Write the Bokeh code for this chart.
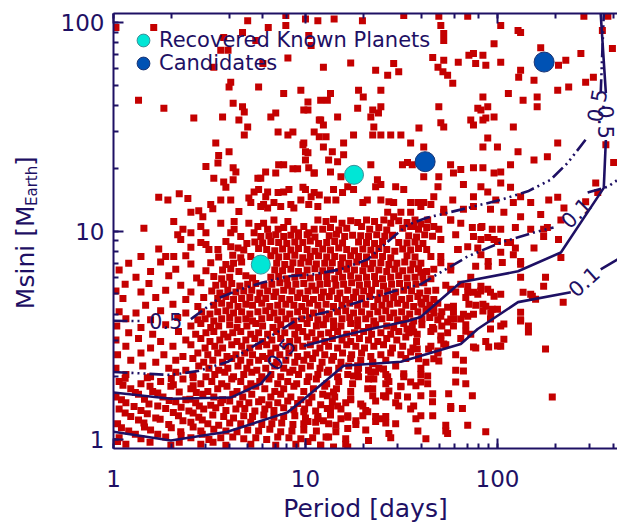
import math
from bokeh.plotting import figure
from bokeh.layouts import row
from bokeh.models import Range1d, LogAxis, Legend, LegendItem, LogTickFormatter
from bokeh.embed import file_html
from bokeh.resources import INLINE
from bokeh.core.properties import value

NAN = float("nan")
NAVY = "#1e1064"
RED = "#c40000"
CYAN = "#00e6d6"
BLUE = "#0052b4"
FONT = "DejaVu Sans"

# ---------------- data (Period [days], Msini [M_Earth]) ----------------
top_sparse = [(1.03,94.6),(1.62,94.6),(5.0,102),(6.4,94.6),(7.9,96.8),(7.9,108),(10.0,104),(4.7,89.6),(3.75,84.8),(10.4,86.7),(11.6,102),(3.62,73.5),(3.95,73.5),(5.51,82),(3.33,61),(6.0,63.5),(8.1,67.5),(10.7,77.6),(4.08,51.7),(4.0,49),(5.7,49),(9.46,47.3),(7.7,45.7),(1.35,42.4),(1.83,38.8),(2.62,34.8),(4.2,41),(4.7,39.4),(4.8,37.2),(3.7,35.2),(4.5,34.1),(5.0,31.5),(4.8,28.9),(6.6,35.2),(7.0,36.8),(10.3,41.5),(10.3,38),(7.2,29.8),(8.1,28.9),(8.6,29.8),(11.1,29.8),(11.8,34.1),(3.41,26.4),(4.0,24),(3.53,23),(3.5,21.2),(3.03,20.4),(4.2,20.1),(4.34,19.2),(9.7,25.9),(10.0,24),(10.0,21.9),(10.4,20.1),(7.25,20.8),(7.7,20.8),(8.6,19.9),(9.1,19.9),(6.2,19.2),(5.65,17.9),(5.85,17.9),(7.0,19),(3.33,17.9),(3.75,17.2),(4.2,17.6),(11.1,19),(3.85,16.2),(1.72,14.5),(1.92,14.1),(2.2,15.1),(2.44,14.3),(2.53,12.3),(2.78,12.5),(2.92,11.7),(3.21,13.4),(3.29,12.8),(3.62,14.1),(4.08,14.1),(4.5,12.4),(5.07,14.4),(5.19,13.7),(5.4,15.4),(5.7,15.8),(6.35,15.4),(6.21,14.6),(7.2,15.3),(7.7,15.4),(8.2,15.8),(9.7,16.2),(10.7,14.6),(11.8,14.9),(5.85,13.1),(6.05,13.4),(6.35,12.9),(6.85,13.7),(7.43,13.1),(8.39,13.4),(8.7,12.9),(9.46,14.1),(10.4,13.4),(11.6,13.1),(1.44,10.3),(2.06,11.1),(2.3,10.2),(2.53,9.8),(2.85,10.5),(3.03,9.8),(3.62,10.9),(4.25,11.1),(5.07,10.9),(4.08,9.8),(4.25,10.2),(4.6,9.4),(5.65,10.5),(6.05,10.9),(6.35,10.2),(6.85,11.3),(7.2,10.2),(7.7,10.4),(8.1,11.1),(8.7,10.2),(9.2,9.8),(9.8,10.5),(10.4,9.8),(11.1,10.2),(11.6,11.3),(5.4,9.8),(5.85,9.4),(1.87,7.55),(2.06,7.55),(2.16,9.6),(2.24,9.1),(2.53,8.35),(3.03,8.62),(3.14,8.16),(3.5,8.16),(4.08,8.4),(4.45,8.3)]

right_sparse = [(14.1,104),(19.8,102),(32.5,108),(49.5,107),(70,107),(50.7,96.8),(52.5,88.6),(52.5,82),(104,96.8),(128,91.6),(132,89.6),(282,107),(376,107),(12.4,61),(17.2,64),(23.2,59),(26.8,55.8),(28.8,63.5),(30.6,58),(46,68),(49,61),(52.5,65.9),(52,58),(55,55.8),(58.5,51.1),(62.5,64.4),(75,71),(71,69.6),(84,69.6),(77,63.5),(87,62.3),(96,79),(104,64.4),(132,59),(129,54.6),(155,52.9),(168,75.6),(227,65.9),(272,71),(208,62.3),(288,51.7),(316,54.6),(206,47.3),(235,49),(114,45.7),(136,42.4),(161,43.9),(161,39.4),(84,43.9),(79,38.8),(82,38),(89,39.4),(87,34.8),(84,34.1),(72.6,34.1),(75,32.2),(96,35.2),(49.5,39.4),(50.7,33),(52.5,31.5),(121,31.5),(89,27.9),(84,25.3),(100,25.3),(128,24),(155,21.9),(182,22.7),(206,26.4),(117,20.8),(104,19.2),(96,19),(84,20.1),(75,20.1),(57,20.8),(64.4,19.7),(59,19),(49.5,18.2),(49,16.3),(66.5,16.7),(82,16.3),(89,15.4),(75,14.6),(104,17),(117,16.2),(132,14.6),(149,13.7),(185,14.1),(168,12),(206,14.5),(222,12.9),(288,13.8),(325,17),(333,15.3),(403,21.3),(367,25.9),(397,75),(352,91.6),(9.8,38),(12,42.4),(13,42.4),(13.5,45.7),(18.9,47.3),(20,43.9),(24.7,47.3),(18.7,38.8),(22.4,38),(24.7,39.4),(21.9,35.2),(24,36.8),(14.7,35.2),(12,34.1),(12.4,32.2),(11.8,28.3),(12.8,28.3),(15.8,26.4),(17.8,28.9),(22.7,31.5),(22.4,28.9),(24.7,28.9),(27.8,28.9),(31.4,28.9),(35.3,26.4),(39,31.2),(41.3,25.3),(9.8,26.4),(10.3,23.7),(12.4,25.3),(13.8,24),(15.8,23.2),(14.7,21.5),(13.2,21.9),(11.1,19),(21.9,20.8),(32,20.8),(34,21.3),(36,20.8),(41.3,18.2),(32.5,15.8),(29.5,16.3),(23.7,17.6),(23.2,16.3),(24.7,16.7),(15.3,18.2),(13.5,19.2),(16.6,16.3),(15.6,15.3),(17.8,15.8),(14,15.8),(13,14.1),(14.4,14.1),(10,15.8),(11.1,15.3),(19.9,13.7),(21,14.1),(24.7,14.1),(27.2,13.8),(28.8,13.7),(35.3,13.7),(38.5,13.7),(41.3,13.7),(46.6,14.6),(58.5,14.1),(66.5,12.7),(75,13.1),(92,12.7),(108,12.3),(121,13.7),(98,14.1),(132,11.7),(149,10.2),(182,10.4),(214,11.3),(83,10.5),(94,10.2),(104,10.2),(75,9.4),(82,9.1),(89,9.3),(96,9.1),(52.5,12.3),(57,11.3),(49.5,10.2),(50.7,9.1),(62,8.16),(70,8.4),(43.3,11.3),(46.6,10.5),(35.3,12.3),(36.6,10.5),(28.8,11.7),(31.4,12.3),(25.6,11.3),(26.8,12.3),(208,9.1),(117,8.8),(104,7.9),(121,7.7)]

mid_right = [(39.9,13.1),(45,13.4),(52.5,12.7),(57.1,11.3),(64.4,10.9),(74,10.4),(81.8,10.4),(124,10.4),(100,8.9),(113,8.8),(124,8.3),(155,8.3),(174,10.2),(174,9.4),(79,8.3),(82,7.7),(89.5,7.15),(60.6,9.6),(62.5,8.16),(77,6.77),(89.5,6.77),(106,7.07),(132,7.15),(214,7.47),(57.1,6.77),(50.7,7.55),(46.6,6.55),(39.9,6.34),(70,5.09),(79,4.98),(92,5.09),(71,4.46),(84,4.46),(100,4.22),(57.1,5.26),(59,4.36),(50.7,3.9),(57.1,3.78),(66.5,3.99),(92,3.78),(108,3.58),(132,4.08),(145,3.5),(136,5.09),(152,4.87),(220,4.56),(132,6.92),(178,6.0),(174,5.43),(132,6.0),(149,4.98),(158,4.71),(104,4.98),(96,4.87),(75,5.09),(82,5.43),(89,5.26),(70,5.43),(87,4.36),(94,4.22),(75,3.99),(84,4.13),(104,3.5),(92,3.39),(132,3.7),(145,3.28),(108,3.03),(100,2.81),(90,2.78),(75,2.78),(68.4,3.31),(178,2.72),(55,4.31),(59,4.08),(64.4,3.78),(70,3.9),(55,3.66),(59,3.5),(46.6,4.31),(39.9,4.56),(43.3,4.22),(50.7,3.14),(46.6,3.39),(36.6,3.28),(33.8,3.39)]

low_right = [(193,1.6),(66.5,2.13),(60.6,1.89),(68.4,1.85),(74,1.62),(55.7,1.66),(65.7,1.41),(57.1,1.44),(46,1.30),(53.8,1.17),(55,1.07),(70,1.17),(86.9,1.09),(42.4,1.01),(38.5,1.10),(37.6,1.26),(36.6,1.45),(46,1.66),(39.9,1.89),(37.6,1.81),(35.3,1.89),(39.9,1.62),(31.4,1.79),(30.2,1.62),(34,1.60),(27.2,1.71),(25.5,1.62),(30.6,1.45),(32.5,2.07),(43.3,2.02),(46.6,2.44),(49.5,2.38),(43.8,2.72),(49,2.66),(52.5,2.87),(38.2,2.72),(38.8,2.44),(35.3,2.63),(26.8,2.0),(26.2,1.85),(22.4,1.62),(23.2,1.53),(21.1,1.75),(19.9,1.45),(21.1,1.36),(23.2,1.22),(24.7,1.26),(26.2,1.29),(27.2,1.07),(29.5,1.19),(21.3,0.99),(18.3,1.23),(19.9,1.30),(16.6,1.30),(16.6,1.13),(15.3,1.26),(14.4,1.17),(13.2,1.03),(14,0.92),(16.6,0.92),(12,0.94),(10.3,0.98),(11.6,1.26),(12.4,1.23),(10.3,1.22),(9.8,1.36),(13.5,1.41),(14.7,1.45),(13,1.62),(14,1.69),(17.2,1.57),(22.7,1.95),(23.2,2.11),(22.4,2.31),(25.5,2.18),(18.7,2.11),(17.8,2.02),(18.7,2.26)]

low_left = [(1.15,1.97),(1.5,1.98),(2.0,1.96),(2.6,1.98),(1.12,1.82),(1.55,1.8),(2.05,1.83),(2.6,1.81),(1.3,1.68),(1.7,1.67),(2.2,1.69),(2.7,1.68),(1.1,1.55),(1.45,1.56),(1.95,1.54),(2.5,1.56),(1.28,1.44),(1.7,1.45),(2.25,1.43),(2.8,1.45),(1.15,1.34),(1.5,1.33),(2.05,1.35),(2.6,1.34),(1.35,1.24),(1.75,1.25),(2.3,1.23),(2.9,1.24),(1.1,1.14),(1.45,1.15),(2.0,1.14),(2.6,1.15),(1.3,1.06),(1.7,1.06),(2.25,1.05),(2.9,1.06),(1.05,0.98),(1.55,0.97),(2.2,0.97),(3.3,0.97)]

dense_upper = [(12.8,11.1),(14.0,11.4),(15.5,10.9),(17.2,11.2),(18.7,11.0),(20.8,11.3),(22.9,11.1),(27.8,10.9),(30.6,11.2),(33.8,11.0),(37.2,11.3),(39.9,10.8),
(12.3,10.2),(13.5,10.4),(14.9,10.1),(16.4,10.3),(19.6,10.5),(21.6,10.2),(24.1,10.4),(26.5,10.1),(32.1,10.3),(35.3,10.5),(38.8,10.2),(42.8,10.4),
(6.45,9.5),(7.0,9.6),(7.7,9.4),(8.39,9.55),(9.2,9.45),(10.2,9.6),(11.2,9.35),(13.3,9.5),(14.5,9.65),(16.0,9.4),(17.6,9.55),(19.4,9.5),(21.3,9.4),(23.5,9.6),(25.9,9.45),(28.4,9.55),(34.5,9.5),(37.9,9.35),(41.8,9.6),(45.9,9.45),
(2.85,8.8),(3.85,8.9),(4.95,8.7),(5.45,8.85),(5.98,8.75),(6.6,8.9),(7.25,8.8),(7.99,8.7),(8.8,8.85),(9.68,8.8),(10.6,8.95),(11.7,8.7),(12.9,8.8),(14.2,8.9),(15.6,8.75),(18.9,8.85),(20.8,8.8),(22.9,8.7),(25.2,8.9),(30.6,8.8),(33.8,8.75),(37.2,8.85),(40.9,8.7),
(1.72,8.2),(4.77,8.1),(5.7,8.25),(6.28,8.15),(6.92,8.05),(7.6,8.2),(8.39,8.1),(9.2,8.25),(10.2,8.15),(11.2,8.0),(12.3,8.2),(13.5,8.1),(14.9,8.3),(16.4,8.15),(18.0,8.05),(19.9,8.2),(21.9,8.1),(24.1,8.25),(26.5,8.15),(29.2,8.0),(32.1,8.2),(35.3,8.1),(38.8,8.25),(42.8,8.15),
(1.39,7.55),(2.38,7.6),(3.53,7.5),(4.18,7.65),(4.6,7.45),(5.19,7.55),(6.6,7.6),(7.25,7.5),(7.99,7.55),(8.8,7.65),(9.68,7.45),(10.6,7.55),(11.7,7.6),(12.9,7.5),(14.2,7.55),(15.6,7.45),(17.2,7.6),(18.9,7.55),(20.8,7.5),(22.9,7.65),(25.2,7.55),(27.8,7.45),(33.8,7.6),(37.2,7.5),(45.0,7.55),
(1.20,7.0),(1.76,7.1),(2.53,6.95),(3.21,7.05),(3.85,6.9),(4.22,7.0),(4.65,7.1),(7.08,7.0),(7.8,6.9),(8.6,7.05),(9.46,7.0),(10.4,7.1),(11.4,6.95),(12.6,7.0),(13.8,7.05),(15.3,6.9),(16.8,7.0),(18.5,7.1),(20.3,6.95),(22.4,7.0),(24.7,7.05),(27.2,6.9),(29.9,7.0),(32.9,7.1),(36.3,6.95),(39.9,7.0),(50.7,7.05)]

dense_mid = [(1.07,6.5),(1.56,6.4),(2.11,6.55),(3.03,6.45),(3.7,6.5),(4.08,6.6),(4.5,6.4),(6.92,6.5),(7.6,6.45),(8.39,6.55),(9.2,6.4),(10.2,6.5),(11.2,6.6),(12.3,6.45),(13.5,6.5),(14.9,6.4),(16.4,6.55),(18.0,6.5),(19.9,6.45),(21.9,6.6),(24.1,6.5),(26.5,6.4),(29.2,6.55),(32.1,6.45),(35.3,6.5),(38.8,6.6),(42.8,6.4),(57.1,6.5),
(1.31,6.0),(1.94,6.1),(2.71,5.95),(3.33,6.05),(3.66,5.9),(4.03,6.0),(4.89,6.1),(5.3,5.95),(6.6,6.0),(7.25,6.05),(7.99,5.9),(8.8,6.0),(9.68,6.1),(10.6,5.95),(11.7,6.0),(12.9,6.05),(14.2,5.9),(15.6,6.0),(17.2,6.1),(18.9,5.95),(20.8,6.0),(22.9,6.05),(25.2,5.9),(27.8,6.0),(30.6,6.1),(33.8,5.95),(37.2,6.0),(40.9,6.05),(45.0,5.9),(72.6,6.0),
(1.15,5.55),(1.53,5.6),(2.24,5.5),(2.85,5.65),(3.41,5.5),(3.75,5.55),(4.13,5.6),(4.55,5.45),(5.0,5.55),(5.51,5.6),(6.07,5.5),(6.68,5.55),(7.35,5.65),(8.08,5.5),(8.91,5.55),(9.8,5.6),(10.8,5.45),(11.9,5.55),(13.0,5.6),(14.4,5.5),(15.8,5.55),(17.4,5.65),(19.1,5.5),(21.0,5.55),(23.2,5.6),(25.5,5.45),(28.1,5.55),(30.9,5.6),(34.0,5.5),(37.6,5.55),(41.3,5.65),(53.8,5.5),(64.4,5.55),
(1.03,5.15),(1.39,5.1),(1.87,5.2),(2.53,5.1),(3.25,5.15),(3.58,5.05),(3.94,5.2),(4.34,5.1),(4.77,5.15),(5.25,5.2),(5.78,5.05),(6.35,5.15),(7.0,5.1),(7.7,5.2),(8.5,5.15),(9.35,5.05),(10.3,5.15),(11.3,5.2),(12.4,5.1),(13.7,5.15),(15.1,5.05),(16.6,5.2),(18.3,5.1),(20.1,5.15),(22.1,5.2),(24.4,5.05),(26.8,5.15),(29.5,5.1),(32.5,5.2),(35.7,5.15),(39.4,5.05),(43.3,5.15),(47.7,5.2),(60.6,5.1),(81.8,5.15),
(1.12,4.75),(1.66,4.8),(2.38,4.7),(2.95,4.8),(3.49,4.75),(3.85,4.85),(4.22,4.7),(4.65,4.75),(5.13,4.8),(5.65,4.7),(6.21,4.75),(6.85,4.85),(7.52,4.75),(8.28,4.7),(9.1,4.8),(10.0,4.75),(11.0,4.7),(12.1,4.8),(13.3,4.85),(14.7,4.75),(16.2,4.7),(17.8,4.8),(19.6,4.75),(21.6,4.85),(23.8,4.7),(26.2,4.75),(28.8,4.8),(31.7,4.7),(34.9,4.75),(38.5,4.85),(42.4,4.75),(46.6,4.7),(68.4,4.8),
(1.47,4.4),(2.04,4.45),(2.75,4.35),(3.33,4.4),(3.66,4.5),(4.03,4.4),(4.45,4.35),(4.89,4.45),(5.3,4.4),(5.92,4.5),(6.52,4.35),(7.17,4.4),(7.9,4.45),(8.7,4.4),(9.57,4.35),(10.5,4.5),(11.6,4.4),(12.8,4.45),(14.0,4.35),(15.5,4.4),(17.0,4.5),(18.7,4.4),(20.6,4.45),(22.7,4.35),(25.0,4.4),(27.5,4.45),(30.2,4.5),(33.3,4.4),(36.6,4.35),(40.4,4.45),(44.4,4.4),(48.9,4.5),(77.1,4.4),
(1.07,4.1),(1.31,4.05),(1.76,4.15),(2.38,4.05),(2.88,4.1),(3.18,4.0),(3.49,4.1),(3.85,4.15),(4.22,4.05),(4.65,4.1),(5.13,4.0),(5.65,4.1),(6.21,4.15),(6.85,4.05),(7.52,4.1),(8.28,4.0),(9.1,4.1),(10.0,4.15),(11.0,4.05),(12.1,4.1),(13.3,4.0),(14.7,4.1),(16.2,4.15),(17.8,4.05),(19.6,4.1),(21.6,4.0),(23.8,4.1),(26.2,4.15),(28.8,4.05),(31.7,4.1),(34.9,4.0),(38.5,4.1),(42.4,4.15),(46.6,4.05),(51.3,4.1),(92.3,4.05),
(1.16,3.8),(1.56,3.75),(2.16,3.85),(2.75,3.75),(3.0,3.8),(3.33,3.7),(3.66,3.8),(4.03,3.85),(4.45,3.75),(4.89,3.8),(5.3,3.7),(5.92,3.8),(6.52,3.85),(7.17,3.75),(7.9,3.8),(8.7,3.7),(9.57,3.8),(10.5,3.85),(11.6,3.75),(12.8,3.8),(14.0,3.7),(15.5,3.8),(17.0,3.85),(18.7,3.75),(20.6,3.8),(22.7,3.7),(25.0,3.8),(27.5,3.85),(30.2,3.75),(33.3,3.8),(36.6,3.7),(40.4,3.8),(44.4,3.85),(48.9,3.75),(59.3,3.8),(132,3.75)]

dense_lower = [(1.04,3.5),(1.39,3.45),(1.87,3.55),(2.53,3.5),(2.85,3.6),(3.21,3.45),(3.53,3.5),(4.03,3.55),(4.4,3.45),(4.95,3.5),(5.51,3.6),(5.98,3.5),(6.77,3.45),(7.43,3.55),(8.5,3.5),(9.2,3.45),(10.2,3.6),(11.4,3.5),(12.4,3.55),(14.0,3.45),(15.3,3.5),(17.2,3.6),(18.7,3.5),(21.3,3.45),(23.2,3.55),(26.5,3.5),(28.8,3.45),(32.5,3.6),(36.0,3.5),(40.4,3.55),(45.9,3.45),(51.3,3.5),(68.4,3.55),
(1.20,3.25),(1.60,3.2),(2.18,3.3),(2.68,3.2),(3.03,3.25),(3.33,3.3),(3.75,3.2),(4.18,3.25),(4.6,3.3),(5.19,3.2),(5.7,3.25),(6.35,3.2),(7.08,3.3),(7.8,3.25),(8.8,3.2),(9.68,3.3),(10.8,3.25),(12.0,3.2),(13.2,3.25),(14.7,3.3),(16.4,3.2),(18.0,3.25),(20.1,3.3),(22.1,3.2),(24.7,3.25),(27.8,3.2),(30.6,3.3),(34.5,3.25),(38.2,3.2),(45.0,3.3),(55.0,3.25),(72.6,3.2),
(1.03,3.0),(1.35,3.05),(1.76,2.95),(2.38,3.0),(2.85,3.05),(3.18,2.95),(3.58,3.0),(3.94,3.1),(4.4,2.95),(4.89,3.0),(5.45,3.05),(5.98,2.95),(6.68,3.0),(7.43,3.05),(8.28,2.95),(9.1,3.0),(10.2,3.1),(11.3,3.0),(12.6,2.95),(13.8,3.05),(15.5,3.0),(17.2,2.95),(19.1,3.05),(21.3,3.0),(23.8,2.95),(26.5,3.05),(29.9,3.0),(33.3,3.1),(37.9,2.95),(50.7,3.0),(64.4,3.05),(86.9,2.95),
(1.16,2.8),(1.56,2.75),(2.04,2.8),(2.53,2.85),(3.0,2.75),(3.37,2.8),(3.7,2.75),(4.13,2.85),(4.65,2.8),(5.13,2.75),(5.7,2.8),(6.28,2.85),(7.0,2.75),(7.9,2.8),(8.7,2.75),(9.68,2.8),(10.6,2.85),(11.9,2.75),(13.2,2.8),(14.7,2.75),(16.4,2.85),(18.3,2.8),(20.3,2.75),(22.7,2.8),(25.5,2.85),(28.4,2.75),(32.1,2.8),(36.3,2.75),(45.0,2.8),(53.8,2.85),(77.1,2.75),(104,2.8),
(1.05,2.55),(1.39,2.6),(1.83,2.55),(2.3,2.5),(2.75,2.6),(3.1,2.55),(3.49,2.6),(3.9,2.5),(4.34,2.55),(4.83,2.6),(5.3,2.55),(5.98,2.5),(6.6,2.6),(7.35,2.55),(8.2,2.6),(9.1,2.5),(10.2,2.55),(11.3,2.6),(12.6,2.55),(14.0,2.5),(15.6,2.6),(17.4,2.55),(19.6,2.6),(21.9,2.5),(24.7,2.55),(27.8,2.6),(31.4,2.55),(38.8,2.5),(48.9,2.6),(60.6,2.55),
(1.23,2.4),(1.66,2.35),(2.11,2.4),(2.59,2.45),(2.95,2.35),(3.29,2.4),(3.7,2.35),(4.13,2.45),(4.6,2.4),(5.13,2.35),(5.7,2.4),(6.35,2.45),(7.08,2.35),(7.9,2.4),(8.8,2.35),(9.8,2.4),(10.9,2.45),(12.2,2.35),(13.7,2.4),(15.3,2.35),(17.2,2.45),(19.4,2.4),(22.4,2.35),(26.2,2.4),(33.3,2.45),(42.4,2.35),(66.5,2.4),
(1.03,2.2),(1.42,2.25),(1.94,2.2),(2.38,2.15),(2.78,2.25),(3.14,2.2),(3.53,2.15),(3.94,2.2),(4.45,2.25),(4.95,2.2),(5.58,2.15),(6.21,2.2),(6.92,2.25),(7.7,2.2),(8.6,2.15),(9.57,2.2),(10.6,2.25),(11.9,2.2),(13.2,2.15),(14.9,2.2),(16.8,2.25),(18.9,2.2),(21.3,2.15),(24.1,2.2),(29.5,2.25),(39.9,2.2),(60.6,2.15),
(1.16,2.05),(1.56,2.0),(2.11,2.1),(2.59,2.05),(3.03,2.0),(3.37,2.05),(3.8,2.1),(4.22,2.0),(4.77,2.05),(5.25,2.1),(5.92,2.0),(6.6,2.05),(7.43,2.0),(8.28,2.1),(9.2,2.05),(10.4,2.0),(11.6,2.05),(13.0,2.1),(14.7,2.0),(16.6,2.05),(18.9,2.0),(21.9,2.1),(26.2,2.05),(32.5,2.0),(39.9,2.05)]

base_rows = [(1.07,1.9),(1.39,1.85),(1.76,1.9),(2.3,1.95),(2.85,1.85),(3.25,1.9),(3.66,1.85),(4.13,1.95),(4.6,1.9),(5.19,1.85),(5.78,1.9),(6.45,1.95),(7.17,1.85),(8.08,1.9),(9.0,1.85),(10.2,1.9),(11.4,1.95),(12.9,1.85),(14.9,1.9),(17.6,1.85),(21.3,1.95),(27.2,1.9),(43.3,1.85),
(1.23,1.75),(1.60,1.7),(1.99,1.8),(2.53,1.75),(3.1,1.7),(3.49,1.75),(3.9,1.8),(4.4,1.7),(4.95,1.75),(5.51,1.8),(6.14,1.75),(6.92,1.7),(7.7,1.75),(8.7,1.8),(9.8,1.7),(11.0,1.75),(12.6,1.8),(14.5,1.75),(17.2,1.7),(22.4,1.75),(31.4,1.8),
(1.03,1.6),(1.35,1.65),(1.81,1.6),(2.38,1.55),(2.92,1.65),(3.33,1.6),(3.7,1.55),(4.18,1.65),(4.71,1.6),(5.25,1.65),(5.92,1.55),(6.6,1.6),(7.43,1.65),(8.39,1.6),(9.46,1.55),(10.8,1.6),(12.3,1.65),(14.2,1.6),(17.2,1.55),(26.2,1.6),
(1.16,1.5),(1.53,1.48),(2.11,1.52),(2.68,1.5),(3.21,1.46),(3.62,1.5),(4.03,1.53),(4.55,1.48),(5.07,1.5),(5.7,1.52),(6.45,1.47),(7.17,1.5),(8.08,1.53),(9.1,1.49),(10.4,1.5),(12.0,1.47),(13.8,1.52),(16.2,1.5),(19.4,1.48),(29.5,1.5),(45.9,1.52),
(1.07,1.4),(1.39,1.38),(1.87,1.41),(2.47,1.37),(2.95,1.4),(3.41,1.42),(3.85,1.38),(4.34,1.4),(4.83,1.41),(5.45,1.37),(6.14,1.4),(6.85,1.38),(7.7,1.42),(8.7,1.39),(9.9,1.4),(11.3,1.37),(13.0,1.41),(15.3,1.4),(20.6,1.38),(35.3,1.4),(57.1,1.41),
(1.23,1.29),(1.66,1.27),(2.18,1.3),(2.78,1.28),(3.29,1.31),(3.75,1.29),(4.22,1.27),(4.77,1.3),(5.3,1.29),(6.07,1.31),(6.85,1.28),(7.7,1.29),(8.8,1.3),(10.0,1.27),(11.6,1.29),(13.5,1.31),(16.6,1.28),(23.2,1.29),(39.9,1.3),
(1.05,1.19),(1.44,1.2),(1.94,1.18),(2.53,1.21),(3.1,1.19),(3.53,1.17),(4.03,1.2),(4.6,1.19),(5.19,1.21),(5.92,1.18),(6.68,1.19),(7.52,1.2),(8.6,1.18),(9.8,1.19),(11.3,1.21),(13.2,1.19),(18.3,1.18),(26.2,1.2),
(1.20,1.1),(1.56,1.11),(2.24,1.09),(2.85,1.1),(3.33,1.12),(3.85,1.1),(4.4,1.09),(5.0,1.11),(5.7,1.1),(6.52,1.12),(7.43,1.09),(8.5,1.1),(9.8,1.11),(11.4,1.1),(14.4,1.09),(20.6,1.11),(53.8,1.1),
(1.07,1.02),(1.39,1.01),(1.87,1.03),(2.53,1.02),(3.14,1.0),(3.62,1.02),(4.18,1.03),(4.77,1.01),(5.51,1.02),(6.28,1.0),(7.17,1.03),(8.2,1.02),(9.46,1.01),(10.9,1.02),(12.8,1.03),(16.2,1.01),(27.8,1.02),
(1.16,0.95),(1.99,0.94),(2.85,0.95),(3.85,0.94),(5.19,0.95),(7.0,0.94),(8.91,0.95),(12.0,0.94),(16.2,0.95)]

known_period = [5.85, 17.9]
known_msini = [6.9, 18.6]
cand_period = [42.0, 175.0]
cand_msini = [21.5, 64.6]

# detection-probability contours (NaN = gap for the inline label)
c01_solid_p = [1.0, 1.99, 3.92, 8.06, 9.45, 15.8, 31.4, 64.4, 78.9, 128, 241, NAN, 345, 423]
c01_solid_m = [1.09, 0.99, 1.09, 1.35, 1.52, 2.26, 2.36, 2.87, 3.39, 4.56, 5.09, NAN, 6.55, 7.31]
c05_solid_p = [1.0, 1.99, 4.08, 5.85, 6.6, NAN, 9.8, 15.3, 21.9, 34.1, 39.8, 64.4, 128, 214, 272, 358, 367, NAN, 367, 345]
c05_solid_m = [1.68, 1.57, 1.59, 1.85, 2.11, NAN, 2.81, 3.14, 3.39, 3.70, 3.87, 5.68, 6.41, 7.89, 11.0, 16.1, 27.3, NAN, 45.8, 110]
c01_dd_p = [1.0, 1.99, 2.75, 3.94, 5.38, 7.17, 9.12, 13.5, 19.4, 28.8, 39.8, 46.6, 70, 104, 155, 196, NAN, 295, 376, 423]
c01_dd_m = [2.11, 2.04, 2.13, 2.36, 2.81, 3.28, 3.78, 4.13, 4.61, 5.14, 5.55, 6.06, 7.55, 8.81, 9.84, 10.4, NAN, 15.3, 16.3, 17.6]
c05_dd_p = [1.0, 1.39, NAN, 2.53, 3.33, 3.62, 4.6, 6.06, 8.08, 11.0, 15.3, 21.1, 28.8, 34.1, 39.8, 43.3, 70, 104, 144, 189, 232, 295, NAN, 345, 358]
c05_dd_m = [3.71, 3.70, NAN, 3.78, 4.56, 4.81, 5.26, 5.68, 6.06, 6.20, 6.55, 7.31, 9.41, 10.7, 11.3, 11.6, 12.9, 14.1, 15.5, 17.6, 21.2, 28.2, NAN, 45.8, 110]

contour_label_text = ["0.5", "0.5", "0.1", "0.1", "0.5", "0.5"]
contour_label_p = [1.87, 7.43, 256, 281, 329, 367]
contour_label_m = [3.70, 2.57, 12.25, 5.74, 40.0, 33.3]
contour_label_deg = [0, 52, 45, 42, 80, -90]

y_title_parts = ["Msini [M", "Earth", "]"]

# ---------------- main figure ----------------
p = figure(width=567, height=525, x_axis_type="log", y_axis_type="log",
           x_range=Range1d(1, 422), y_range=Range1d(0.906, 110.4),
           output_backend="svg", toolbar_location=None, title=None,
           min_border_left=63, min_border_right=0, min_border_top=13, min_border_bottom=75)
p.grid.visible = False
p.outline_line_color = None
p.background_fill_color = "white"
p.border_fill_color = "white"

def style_axis(ax):
    ax.axis_line_color = NAVY
    ax.axis_line_width = 2
    ax.major_tick_in = 10
    ax.major_tick_out = 0
    ax.minor_tick_in = 5
    ax.minor_tick_out = 0
    ax.major_tick_line_color = NAVY
    ax.minor_tick_line_color = NAVY
    ax.major_tick_line_width = 2
    ax.minor_tick_line_width = 2
    ax.major_label_text_font = FONT
    ax.major_label_text_font_size = "23px"
    ax.major_label_text_color = NAVY
    ax.formatter = LogTickFormatter(min_exponent=4)

style_axis(p.xaxis[0])
style_axis(p.yaxis[0])
p.xaxis[0].major_label_overrides = {1: "1", 10: "10", 100: "100"}
p.yaxis[0].major_label_overrides = {1: "1", 10: "10", 100: "100"}
p.xaxis[0].major_label_standoff = 21
p.yaxis[0].major_label_standoff = 9
p.xaxis[0].axis_label = "Period [days]"
p.xaxis[0].axis_label_text_font = FONT
p.xaxis[0].axis_label_text_font_size = "25px"
p.xaxis[0].axis_label_text_font_style = "normal"
p.xaxis[0].axis_label_text_color = NAVY
p.xaxis[0].axis_label_standoff = 4

top = LogAxis()
style_axis(top)
top.major_label_overrides = {1: "", 10: "", 100: ""}
top.major_label_text_font_size = "1px"
top.major_label_standoff = 0
p.add_layout(top, "above")

# scatter of simulated planets
all_pts = (top_sparse + right_sparse + mid_right + low_right + low_left
           + dense_upper + dense_mid + dense_lower + base_rows)
period = [pt[0] for pt in all_pts]
msini = [pt[1] for pt in all_pts]
p.scatter(period, msini, marker="square", size=7, fill_color=RED, line_color=None)

# contours
p.line(c01_solid_p, c01_solid_m, line_color=NAVY, line_width=2.6)
p.line(c05_solid_p, c05_solid_m, line_color=NAVY, line_width=2.6)
p.line(c01_dd_p, c01_dd_m, line_color=NAVY, line_width=2.6, line_dash="14 4 2 4 2 4 2 4")
p.line(c05_dd_p, c05_dd_m, line_color=NAVY, line_width=2.6, line_dash="14 4 2 4 2 4 2 4")

p.text(x=contour_label_p, y=contour_label_m, text=contour_label_text,
       angle=[math.radians(a) for a in contour_label_deg],
       text_font=value(FONT), text_font_size="21px", text_color=NAVY,
       text_align="center", text_baseline="middle")

r_known = p.scatter(known_period, known_msini, marker="circle", size=19,
                    fill_color=CYAN, line_color="#3a8f98", line_width=1)
r_cand = p.scatter(cand_period, cand_msini, marker="circle", size=20,
                   fill_color=BLUE, line_color="#1b3474", line_width=1)

def make_legend(label, rend, loc):
    lg = Legend(items=[LegendItem(label=label, renderers=[rend])], location=loc,
                border_line_color=None, background_fill_alpha=0,
                glyph_width=32, glyph_height=32, label_standoff=0,
                padding=0, margin=0, label_text_font=FONT,
                label_text_font_size="21px", label_text_color=NAVY)
    p.add_layout(lg)

make_legend("Recovered Known Planets", r_known, (14, 392))
make_legend("Candidates", r_cand, (14, 369))

# ---------------- narrow panel holding the rotated y-axis title ----------------
# its frame is aligned with the main frame (page y 13..450), so this range maps 1:1 to page pixels
ty = figure(width=50, height=525, x_range=Range1d(0, 50), y_range=Range1d(450, 13),
            output_backend="svg", toolbar_location=None, title=None,
            x_axis_location=None, y_axis_location=None, min_border=0)
ty.grid.visible = False
ty.outline_line_color = None
ty.background_fill_color = "white"
ty.border_fill_color = "white"
ty.text(x=[25], y=[310], text=[y_title_parts[0]], angle=math.pi / 2,
        text_font=value(FONT), text_font_size="25px", text_color=NAVY,
        text_align="left", text_baseline="alphabetic")
ty.text(x=[31], y=[206.4], text=[y_title_parts[1]], angle=math.pi / 2,
        text_font=value(FONT), text_font_size="15px", text_color=NAVY,
        text_align="left", text_baseline="alphabetic")
ty.text(x=[25], y=[166.2], text=[y_title_parts[2]], angle=math.pi / 2,
        text_font=value(FONT), text_font_size="25px", text_color=NAVY,
        text_align="left", text_baseline="alphabetic")

layout = row(ty, p)
open("out.html", "w").write(file_html(layout, INLINE))
